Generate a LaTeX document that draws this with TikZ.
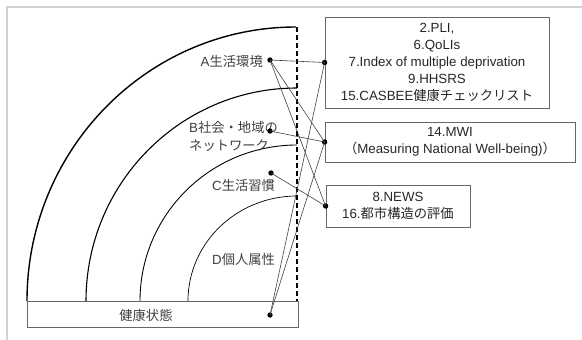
\documentclass[tikz,border=0pt]{standalone}
\usepackage{fontspec}
\setmainfont{Liberation Sans}
\newfontfamily\jp{Noto Sans CJK JP}
\newcommand\J[1]{{\jp #1}}
\begin{document}
\begin{tikzpicture}[x=1pt,y=-1pt,
  infobox/.style={draw=black!60, line width=0.8pt, align=center, inner sep=0pt,
     font=\fontsize{13.3}{17}\selectfont, text=black!85},
  lbl/.style={inner sep=0pt, font=\fontsize{13.3}{18}\selectfont, text=black!75},
  dot/.style={circle, fill=black, inner sep=0pt, minimum size=5.4pt},
  conn/.style={draw=black!75, line width=0.6pt}]
\useasboundingbox (0,0) rectangle (582,340);
% frame
\draw[black!18, line width=2pt] (7,340) -- (7,7) -- (582,7);
% arcs
\draw[line width=1.4pt] (27,301) arc[start angle=180,end angle=270,x radius=269,y radius=274];
\draw[line width=1.1pt] (86,301) arc[start angle=180,end angle=270,x radius=211,y radius=213];
\draw[line width=0.9pt] (140,301) arc[start angle=180,end angle=270,x radius=157,y radius=156];
\draw[line width=0.7pt] (188,301) arc[start angle=180,end angle=270,x radius=109,y radius=105];
\draw[line width=1.2pt, dash pattern=on 5pt off 3pt] (297,27) -- (297,301);
% health box
\node[draw=black!60, line width=0.8pt, minimum width=271pt, minimum height=26pt, inner sep=0pt] (hbox) at (162.5,314) {};
\node[lbl] (htext) at (146,315) {\J{健康状態}};
% labels
\node[lbl, anchor=east] (la) at (263,61) {A\J{生活環境}};
\node[lbl, anchor=west, align=left] (lb) at (189,136) {B\J{社会・地域の}\\\J{ネットワーク}};
\node[lbl, anchor=west] (lc) at (212,185) {C\J{生活習慣}};
\node[lbl, anchor=west] (ld) at (212,259) {D\J{個人属性}};
% boxes
\node[infobox, minimum width=224pt, minimum height=91pt] (b1) at (437,62.5)
  {2.PLI,\\6.QoLIs\\7.Index of multiple deprivation\\9.HHSRS\\15.CASBEE\J{健康チェックリスト}};
\node[infobox, minimum width=250pt, minimum height=40pt] (b2) at (450,142)
  {14.MWI\\\J{（}Measuring National Well-being)\J{）}};
\node[infobox, minimum width=144pt, minimum height=42pt] (b3) at (398,206)
  {8.NEWS\\16.\J{都市構造の評価}};
% dots
\node[dot] (da) at (270,60) {};
\node[dot] (db) at (270,131) {};
\node[dot] (dc) at (271,173) {};
\node[dot] (dh) at (270,315) {};
\node[dot] (d1) at (b1.west) {};
\node[dot] (d2) at (b2.west) {};
\node[dot] (d3) at (b3.west) {};
% connectors
\draw[conn] (da.center) -- (d1.center);
\draw[conn] (da.center) -- (d2.center);
\draw[conn] (da.center) -- (d3.center);
\draw[conn] (db.center) -- (d2.center);
\draw[conn] (dc.center) -- (d3.center);
\draw[conn] (dh.center) -- (d1.center);
\draw[conn] (dh.center) -- (d2.center);
\end{tikzpicture}
\end{document}
